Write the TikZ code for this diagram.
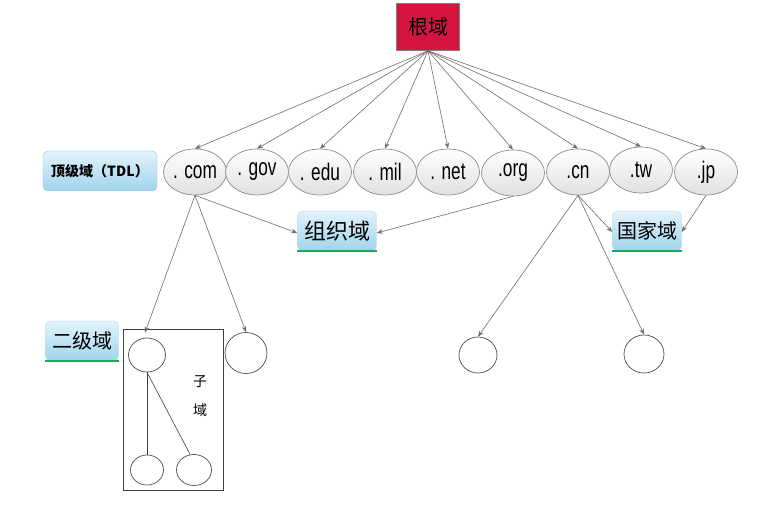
\documentclass[tikz,border=0pt]{standalone}
\usepackage{fontspec}
\usetikzlibrary{shapes.geometric,arrows.meta,shadings}
\newfontfamily\cjkfont{Noto Sans CJK SC}
\newfontfamily\narrowfont[FakeStretch=0.72]{Liberation Sans}
\definecolor{rootred}{RGB}{213,21,63}
\definecolor{linegray}{RGB}{110,110,110}
\definecolor{ellborder}{RGB}{140,140,140}
\definecolor{lbltop}{RGB}{226,243,251}
\definecolor{lblbot}{RGB}{160,212,236}
\definecolor{lblborder}{RGB}{140,195,222}
\definecolor{ulgreen}{RGB}{30,170,80}
\tikzset{
  conn/.style={draw=linegray, line width=0.6pt, -{Stealth[length=6pt,width=4.5pt]}},
  plain/.style={draw=black!75, line width=0.6pt},
  tld/.style={ellipse, draw=ellborder, line width=0.7pt, top color=white, bottom color=black!12,
    minimum width=63pt, minimum height=46pt, inner sep=0pt,
    font=\narrowfont\fontsize{24}{26}\selectfont},
  lbl/.style={rounded corners=5pt, top color=lbltop, bottom color=lblbot, draw=lblborder!60,
    line width=0.4pt, inner sep=0pt, minimum height=40pt,
    font=\cjkfont\fontsize{20}{22}\selectfont},
  circ/.style={ellipse, draw=black!70, line width=0.7pt, inner sep=0pt, fill=white},
  rootbox/.style={draw=black!50, line width=0.6pt, fill=rootred, minimum width=63pt,
    minimum height=47pt, inner sep=0pt, font=\cjkfont\fontsize{20}{22}\selectfont},
}
\begin{document}
\begin{tikzpicture}[x=1pt,y=-1pt]
\useasboundingbox[fill=white] (0,0) rectangle (768,518);

\node[rootbox] (root) at (428,27) {根域};

\node[tld] (com) at (195,172) {. com};
\node[tld] (gov) at (257,172) {. gov};
\node[tld] (edu) at (320,172) {. edu};
\node[tld] (mil) at (385,172) {. mil};
\node[tld] (net) at (448,172) {. net};
\node[tld] (org) at (513,173) {.org};
\node[tld] (cn)  at (578,172) {.cn};
\node[tld] (tw)  at (641,170) {.tw};
\node[tld] (jp)  at (706,172) {.jp};

\node[lbl, minimum width=114pt, draw=lblborder, font=\cjkfont\bfseries\fontsize{14}{16}\selectfont] (tdl) at (100,171) {顶级域（TDL）};

\node[lbl, minimum width=79pt] (zzy) at (337,231) {\fontsize{22}{24}\selectfont 组织域};
\node[lbl, minimum width=69pt] (gjy) at (647,231) {国家域};
\node[lbl, minimum width=73pt] (ejy) at (82,341) {二级域};

\draw[ulgreen, line width=2.5pt] (zzy.south west) -- (zzy.south east);
\draw[ulgreen, line width=2.5pt] (gjy.south west) -- (gjy.south east);
\draw[ulgreen, line width=2.5pt] (ejy.south west) -- (ejy.south east);

\node[draw=black!75, line width=0.7pt, minimum width=100pt, minimum height=161pt, inner sep=0pt] (sub) at (173,409.5) {};
\node[font=\cjkfont\fontsize{14}{16}\selectfont] (zi) at (200,382) {子};
\node[font=\cjkfont\fontsize{14}{16}\selectfont] (yu) at (200,410) {域};

\node[circ, minimum width=37pt, minimum height=34pt] (A) at (147,355) {};
\node[circ, minimum width=42pt, minimum height=41pt] (B) at (246,353) {};
\node[circ, minimum width=33pt, minimum height=30pt] (C) at (147,470) {};
\node[circ, minimum width=35pt, minimum height=31pt] (D) at (194,470) {};
\node[circ, minimum width=38pt, minimum height=36pt] (E) at (478,355) {};
\node[circ, minimum width=40pt, minimum height=38pt] (F) at (644,354) {};

\foreach \t in {com,gov,edu,mil,net,org,cn,tw,jp}
  \draw[conn] (root.south) -- (\t.north);

\draw[conn] (com.south) -- ([xshift=-2pt,yshift=5pt]A.north);
\draw[conn] (com.south) -- (B.north);
\draw[conn] (com.south) -- ([yshift=-2pt]zzy.west);
\draw[conn] (org.south) -- ([yshift=-2pt]zzy.east);
\draw[conn] (cn.south) -- (E.north);
\draw[conn] (cn.south) -- (F.north);
\draw[conn] (cn.south) -- ([yshift=-1pt]gjy.west);
\draw[conn] (jp.south) -- ([yshift=-1pt]gjy.east);

\draw[plain] (A.south) -- (C.north);
\draw[plain] (A.south) -- ([xshift=-4pt]D.north);
\end{tikzpicture}
\end{document}
